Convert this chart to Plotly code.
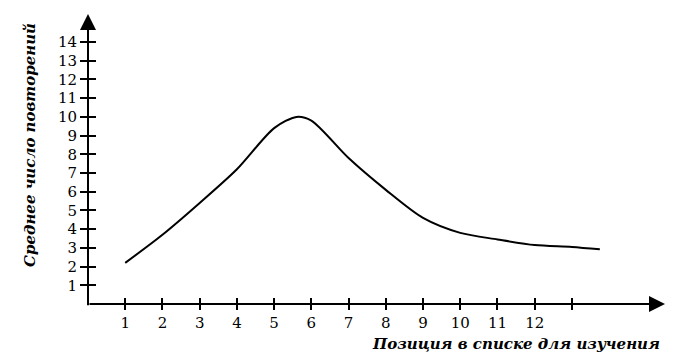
import plotly.graph_objects as go

# Data
positions = [1, 2, 3, 4, 5, 5.6, 6, 7, 8, 9, 10, 11, 12, 13, 13.75]
repetitions = [2.2, 3.7, 5.4, 7.2, 9.4, 10.0, 9.8, 7.8, 6.1, 4.6, 3.8, 3.45, 3.15, 3.05, 2.92]
x_tickvals = list(range(1, 14))
x_ticktext = [str(v) for v in range(1, 13)] + [""]
y_tickvals = list(range(1, 15))
y_ticktext = [str(v) for v in y_tickvals]

x_title = "Позиция в списке для изучения"
y_title = "Среднее число повторений"

XMAX = 15.5
YMAX = 15.5
FONT = "DejaVu Serif"

fig = go.Figure()
fig.add_trace(go.Scatter(x=positions, y=repetitions, mode="lines",
                         line=dict(color="black", width=2, shape="spline", smoothing=0.8),
                         hoverinfo="skip", showlegend=False, cliponaxis=False))
fig.add_trace(go.Scatter(x=positions, y=repetitions, mode="lines",
                         line=dict(color="rgba(0,0,0,0)", width=0),
                         xaxis="x2", yaxis="y2", hoverinfo="skip", showlegend=False))

axis_common = dict(showgrid=False, zeroline=False, showline=False)
fig.update_layout(
    width=698, height=360,
    margin=dict(l=88, r=33, t=14, b=56),
    paper_bgcolor="white", plot_bgcolor="white",
    xaxis=dict(range=[0, XMAX], tickvals=x_tickvals, ticktext=x_ticktext,
               ticks="outside", ticklen=5, tickwidth=2, tickcolor="black",
               tickfont=dict(family=FONT, size=15, color="black"),
               **axis_common),
    yaxis=dict(range=[0, YMAX], tickvals=y_tickvals, ticktext=y_ticktext,
               ticks="outside", ticklen=7, tickwidth=2, tickcolor="black",
               tickfont=dict(family=FONT, size=15, color="black"),
               **axis_common),
    xaxis2=dict(range=[0, XMAX], overlaying="x", anchor="y2", tickvals=x_tickvals,
                ticks="inside", ticklen=6, tickwidth=2, tickcolor="black",
                showticklabels=False, **axis_common),
    yaxis2=dict(range=[0, YMAX], overlaying="y", anchor="x2", side="left", tickvals=y_tickvals,
                ticks="inside", ticklen=8, tickwidth=2, tickcolor="black",
                showticklabels=False, **axis_common),
)

# axis lines with arrowheads
fig.add_annotation(x=XMAX, y=0, ax=0, ay=0, xref="x", yref="y", axref="x", ayref="y",
                   showarrow=True, arrowhead=2, arrowsize=1.6, arrowwidth=2,
                   arrowcolor="black", text="")
fig.add_annotation(x=0, y=YMAX, ax=0, ay=-0.15, xref="x", yref="y", axref="x", ayref="y",
                   showarrow=True, arrowhead=2, arrowsize=1.6, arrowwidth=2,
                   arrowcolor="black", text="")

# axis titles
fig.add_annotation(x=1.0, y=0, xref="paper", yref="paper", xanchor="right", yanchor="top",
                   yshift=-29, xshift=-3, showarrow=False,
                   text="<b><i>" + x_title + "</i></b>",
                   font=dict(family=FONT, size=15, color="black"))
fig.add_annotation(x=0, y=0.5, xref="paper", yref="paper", xanchor="center", yanchor="middle",
                   xshift=-58, yshift=14, showarrow=False, textangle=-90,
                   text="<b><i>" + y_title + "</i></b>",
                   font=dict(family=FONT, size=15, color="black"))

fig.write_html("out.html")
